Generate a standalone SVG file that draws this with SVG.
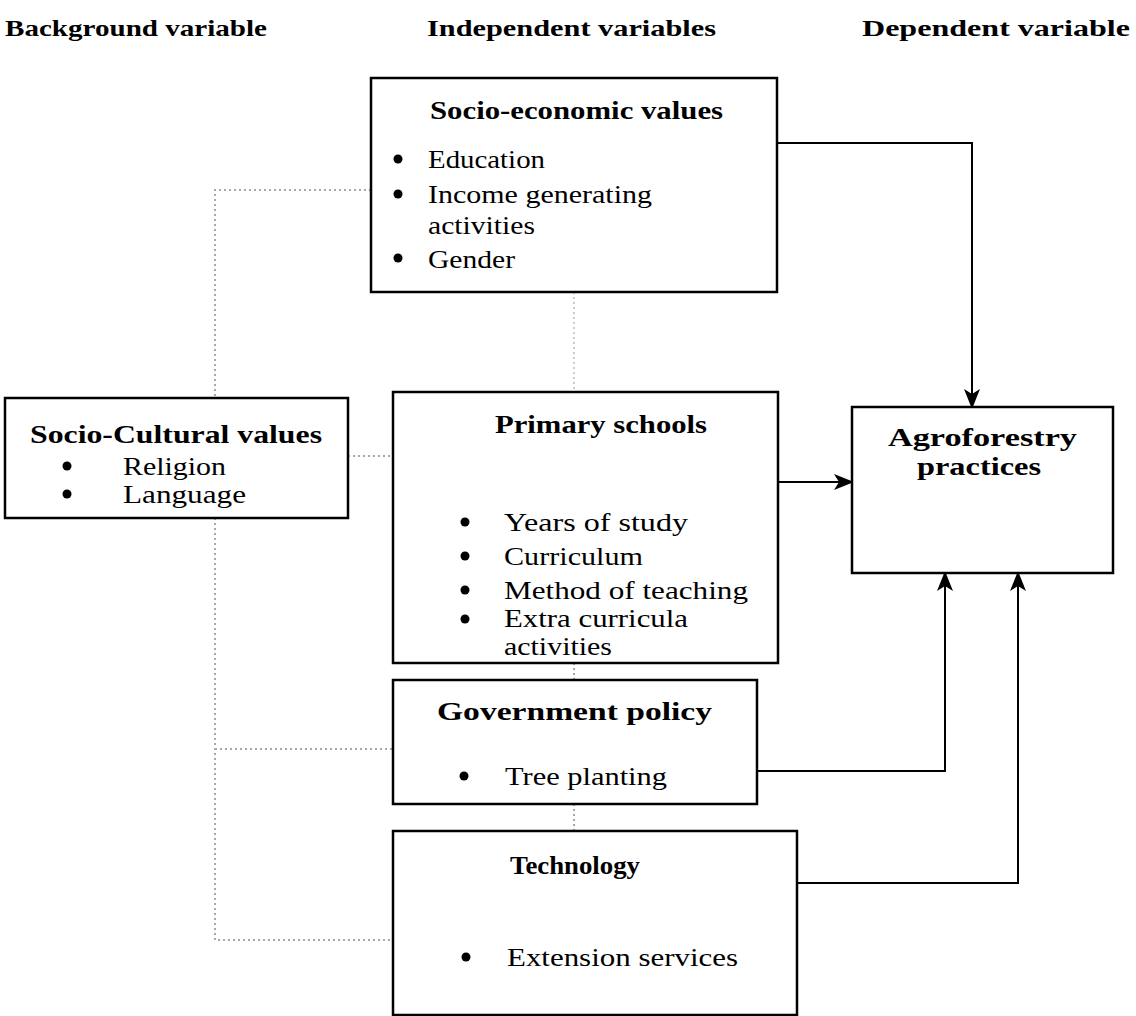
<svg xmlns="http://www.w3.org/2000/svg" width="1136" height="1016" viewBox="0 0 1136 1016">
<defs>
<style>
.box{fill:#fff;stroke:#000;stroke-width:2.5}
.t{font-family:"Liberation Serif","Times New Roman",serif;font-size:26px;fill:#000}
.b{font-family:"Liberation Serif","Times New Roman",serif;font-size:26px;font-weight:bold;fill:#000}
.h{font-family:"Liberation Serif","Times New Roman",serif;font-size:23px;font-weight:bold;fill:#000}
.dot{fill:none;stroke:#a8a8a8;stroke-width:2;stroke-dasharray:2 3}
.con{fill:none;stroke:#000;stroke-width:2}
.bul{fill:#000}
</style>
<marker id="arr" viewBox="0 0 20 16" refX="18" refY="8" markerWidth="20" markerHeight="16" markerUnits="userSpaceOnUse" orient="auto">
<path d="M0,0 L20,8 L0,16 L5,8 Z" fill="#000"/>
</marker>
</defs>
<rect width="1136" height="1016" fill="#fff"/>
<g id="headers">
<text class="h" x="5" y="36" textLength="262" lengthAdjust="spacingAndGlyphs">Background variable</text>
<text class="h" x="427" y="36" textLength="289" lengthAdjust="spacingAndGlyphs">Independent variables</text>
<text class="h" x="862" y="36" textLength="268" lengthAdjust="spacingAndGlyphs">Dependent variable</text>
</g>
<g id="connectors">
<path class="dot" d="M371,190 H215 V398"/>
<path class="dot" d="M215,518 V940 H393"/>
<path class="dot" d="M215,749 H393"/>
<path class="dot" d="M348,456 H393"/>
<path class="dot" d="M574,292 V392" style="stroke:#cccccc"/>
<path class="dot" d="M574,663 V680"/>
<path class="dot" d="M574,804 V831"/>
<path class="con" d="M777,143 H972 V407" marker-end="url(#arr)"/>
<path class="con" d="M778,482 H852" marker-end="url(#arr)"/>
<path class="con" d="M757,771 H945 V573" marker-end="url(#arr)"/>
<path class="con" d="M797,883 H1018 V573" marker-end="url(#arr)"/>
</g>
<g id="socio-economic">
<rect class="box" x="371" y="78" width="406" height="214"/>
<text class="b" x="430" y="119" textLength="293" lengthAdjust="spacingAndGlyphs">Socio-economic values</text>
<circle class="bul" cx="398" cy="159" r="4.5"/>
<text class="t" x="428" y="168" textLength="117" lengthAdjust="spacingAndGlyphs">Education</text>
<circle class="bul" cx="398" cy="194" r="4.5"/>
<text class="t" x="428" y="203" textLength="224" lengthAdjust="spacingAndGlyphs">Income generating</text>
<text class="t" x="428" y="234" textLength="107" lengthAdjust="spacingAndGlyphs">activities</text>
<circle class="bul" cx="398" cy="258" r="4.5"/>
<text class="t" x="428" y="268" textLength="87" lengthAdjust="spacingAndGlyphs">Gender</text>
</g>
<g id="socio-cultural">
<rect class="box" x="5" y="398" width="343" height="120"/>
<text class="b" x="30" y="443" textLength="292" lengthAdjust="spacingAndGlyphs">Socio-Cultural values</text>
<circle class="bul" cx="67" cy="466" r="4.5"/>
<text class="t" x="123" y="475" textLength="103" lengthAdjust="spacingAndGlyphs">Religion</text>
<circle class="bul" cx="67" cy="494" r="4.5"/>
<text class="t" x="123" y="503" textLength="123" lengthAdjust="spacingAndGlyphs">Language</text>
</g>
<g id="primary-schools">
<rect class="box" x="393" y="392" width="385" height="271"/>
<text class="b" x="495" y="433" textLength="212" lengthAdjust="spacingAndGlyphs">Primary schools</text>
<circle class="bul" cx="465" cy="522" r="4.5"/>
<text class="t" x="504" y="531" textLength="184" lengthAdjust="spacingAndGlyphs">Years of study</text>
<circle class="bul" cx="465" cy="556" r="4.5"/>
<text class="t" x="504" y="565" textLength="139" lengthAdjust="spacingAndGlyphs">Curriculum</text>
<circle class="bul" cx="465" cy="590" r="4.5"/>
<text class="t" x="504" y="599" textLength="244" lengthAdjust="spacingAndGlyphs">Method of teaching</text>
<circle class="bul" cx="465" cy="619" r="4.5"/>
<text class="t" x="504" y="627" textLength="184" lengthAdjust="spacingAndGlyphs">Extra curricula</text>
<text class="t" x="504" y="655" textLength="108" lengthAdjust="spacingAndGlyphs">activities</text>
</g>
<g id="government-policy">
<rect class="box" x="393" y="680" width="364" height="124"/>
<text class="b" x="437" y="720" textLength="275" lengthAdjust="spacingAndGlyphs">Government policy</text>
<circle class="bul" cx="464" cy="776" r="4.5"/>
<text class="t" x="505" y="785" textLength="162" lengthAdjust="spacingAndGlyphs">Tree planting</text>
</g>
<g id="technology">
<rect class="box" x="393" y="831" width="404" height="184"/>
<text class="b" x="510" y="874" textLength="130" lengthAdjust="spacingAndGlyphs">Technology</text>
<circle class="bul" cx="466" cy="957" r="4.5"/>
<text class="t" x="507" y="966" textLength="231" lengthAdjust="spacingAndGlyphs">Extension services</text>
</g>
<g id="agroforestry">
<rect class="box" x="852" y="407" width="261" height="166"/>
<text class="b" x="888" y="446" textLength="189" lengthAdjust="spacingAndGlyphs">Agroforestry</text>
<text class="b" x="917" y="475" textLength="124" lengthAdjust="spacingAndGlyphs">practices</text>
</g>
</svg>
